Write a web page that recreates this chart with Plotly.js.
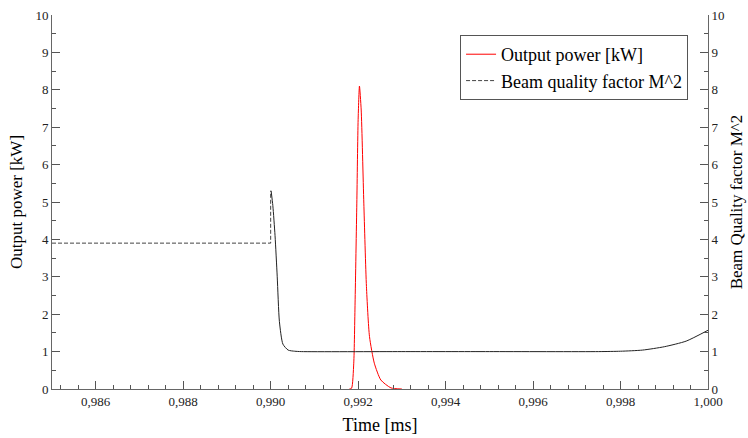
<!DOCTYPE html>
<html>
<head>
<meta charset="utf-8">
<script src="https://cdn.plot.ly/plotly-3.0.1.min.js"></script>
<style>html,body{margin:0;padding:0;background:#fff}#chart{width:748px;height:438px}</style>
</head>
<body>
<div id="chart"></div>
<script>
// Output power [kW]
var tPower = [0.9918, 0.99185, 0.9919, 0.99193, 0.99197, 0.9920, 0.99203, 0.99207, 0.99213, 0.99219, 0.99226, 0.99237, 0.99252, 0.99275, 0.9930];
var power  = [0, 0.02, 0.69, 2.3, 4.97, 7.2, 8.1, 7.46, 4.97, 2.74, 1.40, 0.69, 0.24, 0.03, 0];

// Beam quality factor M^2 (dashed part, initial)
var tM2a = [0.985, 0.990, 0.990];
var m2a  = [3.9, 3.9, 5.3];

// Beam quality factor M^2 (solid part)
var tM2b = [0.99001, 0.99005, 0.9901, 0.99015, 0.9902, 0.99028, 0.9904, 0.99055, 0.9907, 0.993, 0.995, 0.9975, 0.998, 0.9985, 0.999, 0.9995, 1.0];
var m2b  = [5.3, 4.9, 4.1, 3.0, 1.8, 1.2, 1.04, 1.01, 1.0, 1.0, 1.0, 1.0, 1.01, 1.04, 1.13, 1.28, 1.57];

var xTicks = [0.986, 0.988, 0.990, 0.992, 0.994, 0.996, 0.998, 1.000];
var yTicks = [0,1,2,3,4,5,6,7,8,9,10];

var FONT = '"Liberation Serif", "Times New Roman", serif';

var traces = [
  {x: tPower, y: power, type: 'scatter', mode: 'lines', name: 'Output power [kW]',
   line: {color: '#ff0000', width: 1, shape: 'spline', smoothing: 0.6}},
  {x: tM2a, y: m2a, type: 'scatter', mode: 'lines', name: 'Beam quality factor M^2',
   line: {color: '#444444', width: 1, dash: '4px,2px'}, yaxis: 'y2'},
  {x: tM2b, y: m2b, type: 'scatter', mode: 'lines', showlegend: false,
   line: {color: '#222222', width: 1, shape: 'spline', smoothing: 0.6}, yaxis: 'y2'}
];

function axisCommon() {
  return {
    showgrid: false, zeroline: false, showline: true, linecolor: '#666', linewidth: 1,
    ticks: 'inside', ticklen: 8, tickcolor: '#555', tickwidth: 1,
    tickfont: {family: FONT, size: 13, color: '#222'}
  };
}

var layout = {
  width: 748, height: 438,
  margin: {l: 52, r: 40, t: 15, b: 49},
  paper_bgcolor: '#fff', plot_bgcolor: '#fff',
  separators: ', ',
  font: {family: FONT, color: '#000'},
  showlegend: true,
  legend: {x: 0.9696, xanchor: 'right', y: 0.9465, yanchor: 'top',
           bordercolor: '#555', borderwidth: 1, bgcolor: '#fff',
           font: {family: FONT, size: 18, color: '#000'}, itemwidth: 30,
           tracegroupgap: 0},
  xaxis: Object.assign(axisCommon(), {
    range: [0.985, 1.000], tickvals: xTicks, tickformat: '.3f',
    minor: {dtick: 0.0004, tick0: 0.986, ticks: 'inside', ticklen: 4, tickcolor: '#555'},
    title: {text: 'Time [ms]', font: {family: FONT, size: 18}, standoff: 10}
  }),
  yaxis: Object.assign(axisCommon(), {
    range: [0, 10], tickvals: yTicks,
    minor: {dtick: 0.5, ticks: 'inside', ticklen: 4, tickcolor: '#555'},
    title: {text: 'Output power [kW]', font: {family: FONT, size: 17}, standoff: 8}
  }),
  yaxis2: Object.assign(axisCommon(), {
    range: [0, 10], tickvals: yTicks, overlaying: 'y', side: 'right',
    minor: {dtick: 0.5, ticks: 'inside', ticklen: 4, tickcolor: '#555'},
    title: {text: 'Beam Quality factor M^2', font: {family: FONT, size: 17}, standoff: 6}
  })
};

Plotly.newPlot('chart', traces, layout, {displayModeBar: false, staticPlot: true});
</script>
</body>
</html>
